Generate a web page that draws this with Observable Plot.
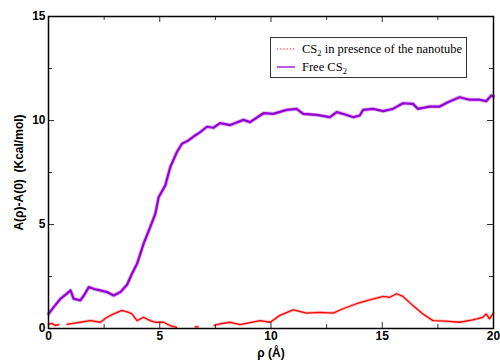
<!DOCTYPE html>
<html><head><meta charset="utf-8">
<script src="https://cdn.jsdelivr.net/npm/d3@7"></script>
<script src="https://cdn.jsdelivr.net/npm/@observablehq/plot@0.6"></script>
<style>
body{margin:0;background:#fff;}
#wrap{position:relative;width:500px;height:360px;}
#legend{position:absolute;left:270px;top:37px;width:197px;height:41px;border:1px solid #333;background:#fff;font-family:"Liberation Serif","Times New Roman",serif;font-size:12.5px;color:#000;box-sizing:border-box;}
.row{position:absolute;left:0;display:flex;align-items:center;white-space:nowrap;height:16px;}
.row svg{margin-left:6px;margin-right:7px;}
sub{font-size:8.5px;vertical-align:-3px;line-height:0;}
</style></head>
<body><div id="wrap"><div id="chart"></div>
<div id="legend">
<div class="row" style="top:3px;"><svg width="18" height="4"><line x1="0" y1="2" x2="18" y2="2" stroke="#ff0000" stroke-width="1.2" stroke-dasharray="1.2,2"/></svg><span>CS<sub>2</sub> in presence of the nanotube</span></div>
<div class="row" style="top:21px;"><svg width="18" height="4"><line x1="0" y1="2" x2="18" y2="2" stroke="#9400d3" stroke-width="1.3"/></svg><span>Free CS<sub>2</sub></span></div>
</div></div>
<script>
// Free CS2
const freeRho = [0,0.25,0.54,0.8,0.99,1.13,1.43,1.6,1.81,2.05,2.33,2.63,2.93,3.23,3.53,3.75,3.98,4.27,4.57,4.8,4.95,5.25,5.47,5.77,6.0,6.29,6.59,6.82,7.12,7.41,7.71,8.16,8.31,8.76,9.06,9.66,10.1,10.7,11.15,11.45,12.05,12.65,12.95,13.3,13.7,13.99,14.14,14.59,15.04,15.48,15.93,16.38,16.6,17.13,17.58,17.95,18.48,18.92,19.37,19.67,19.9,20];
const freeA = [0.7,1.05,1.43,1.65,1.83,1.43,1.35,1.6,1.99,1.9,1.83,1.75,1.59,1.75,2.1,2.63,3.11,4.07,4.87,5.51,6.31,6.88,7.75,8.48,8.88,9.04,9.28,9.44,9.7,9.65,9.87,9.78,9.84,10.03,9.92,10.35,10.32,10.51,10.56,10.32,10.27,10.16,10.4,10.3,10.16,10.24,10.51,10.56,10.45,10.56,10.83,10.8,10.56,10.67,10.67,10.88,11.12,11.0,11.0,10.93,11.2,11.15];
// CS2 in presence of the nanotube (null = below 0, not drawn)
const nanoRho = [0,0.15,0.3,0.45,0.6,0.84,1.1,1.43,1.88,2.33,2.63,2.93,3.3,3.6,3.75,3.98,4.27,4.57,4.8,5.17,5.47,5.75,5.9,6.6,6.72,6.85,7.45,7.7,8.16,8.61,9.06,9.51,9.96,10.4,11.0,11.6,12.2,12.79,13.24,13.84,14.44,15.04,15.34,15.64,15.93,16.38,16.83,17.28,17.88,18.48,19.07,19.52,19.67,19.82,20];
const nanoA = [0.2,0.25,0.15,0.18,null,0.2,0.25,0.3,0.38,0.3,0.54,0.7,0.87,0.78,0.7,0.38,0.54,0.38,0.3,0.3,0.14,0.05,null,0.08,0.08,null,0.15,0.22,0.3,0.19,0.28,0.38,0.3,0.63,0.9,0.74,0.78,0.74,0.95,1.19,1.38,1.54,1.5,1.67,1.54,1.1,0.7,0.38,0.35,0.3,0.42,0.54,0.7,0.46,0.75];
const xTicks = [0,5,10,15,20];
const xMinor = [2.5,7.5,12.5,17.5];
const yTicks = [0,5,10,15];
const yMinor = [2.5,7.5,12.5];

const free = freeRho.map((x,i)=>({x,y:freeA[i]}));
const nano = nanoRho.map((x,i)=>({x,y:nanoA[i]}));

const W=500,H=360,mL=48,mR=7,mT=16,mB=32;
const pw=W-mL-mR, ph=H-mT-mB;
const font = "'Liberation Sans', Arial, sans-serif";

const chart = Plot.plot({
  width:W, height:H, marginLeft:mL, marginRight:mR, marginTop:mT, marginBottom:mB,
  style:{fontFamily:font, fontSize:"12px", background:"#fff"},
  x:{domain:[0,20]},
  y:{domain:[0,15]},
  marks:[
    Plot.line(nano,{x:"x",y:"y",stroke:"#ff0000",strokeWidth:3,strokeOpacity:0.25}),
    Plot.line(nano,{x:"x",y:"y",stroke:"#ff0000",strokeWidth:1.3}),
    Plot.line(free,{x:"x",y:"y",stroke:"#9400d3",strokeWidth:4,strokeOpacity:0.3}),
    Plot.line(free,{x:"x",y:"y",stroke:"#9400d3",strokeWidth:2.2}),
    // inward ticks, all four sides
    Plot.tickX(xTicks,{x:d=>d,insetTop:ph-6,stroke:"#333",strokeWidth:1}),
    Plot.tickX(xTicks,{x:d=>d,insetBottom:ph-6,stroke:"#333",strokeWidth:1}),
    Plot.tickX(xMinor,{x:d=>d,insetTop:ph-4,stroke:"#333",strokeWidth:1}),
    Plot.tickX(xMinor,{x:d=>d,insetBottom:ph-4,stroke:"#333",strokeWidth:1}),
    Plot.tickY(yTicks,{y:d=>d,insetRight:pw-6,stroke:"#333",strokeWidth:1}),
    Plot.tickY(yTicks,{y:d=>d,insetLeft:pw-6,stroke:"#333",strokeWidth:1}),
    Plot.tickY(yMinor,{y:d=>d,insetRight:pw-4,stroke:"#333",strokeWidth:1}),
    Plot.tickY(yMinor,{y:d=>d,insetLeft:pw-4,stroke:"#333",strokeWidth:1}),
    Plot.axisX(xTicks,{tickSize:0,tickPadding:3,fontWeight:"bold",fontSize:12,label:"ρ (Å)",labelAnchor:"center",labelOffset:28,labelArrow:"none"}),
    Plot.axisY(yTicks,{tickSize:0,tickPadding:3,fontWeight:"bold",fontSize:12,label:"A(ρ)-A(0)  (Kcal/mol)",labelAnchor:"center",labelOffset:34,labelArrow:"none"}),
    Plot.frame({stroke:"#000",strokeWidth:1.5})
  ]
});
chart.querySelectorAll('[aria-label="x-axis label"], [aria-label="y-axis label"]').forEach(g=>{g.setAttribute("font-weight","bold");g.setAttribute("font-size","12");});
document.getElementById("chart").appendChild(chart);
</script></body></html>
